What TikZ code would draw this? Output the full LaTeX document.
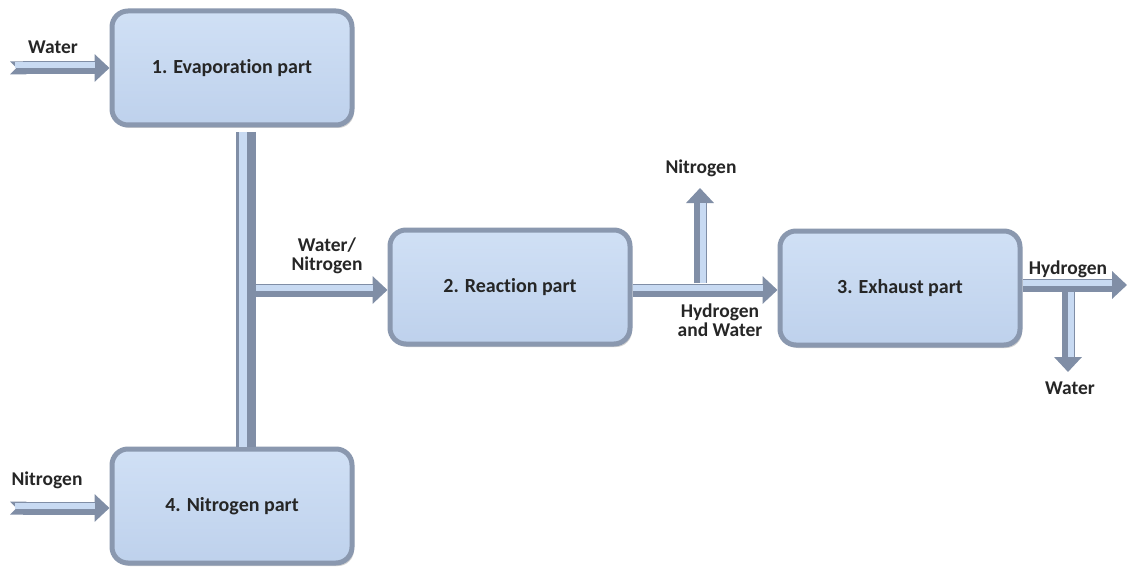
\documentclass[tikz,border=0pt]{standalone}
\usepackage{fontspec}
\setmainfont{Carlito}[Ligatures=NoCommon]
\usetikzlibrary{arrows.meta,shadows}
\definecolor{boxtop}{RGB}{208,224,245}
\definecolor{boxbot}{RGB}{190,209,236}
\definecolor{boxline}{RGB}{138,152,175}
\definecolor{arrdark}{RGB}{128,142,166}
\definecolor{arrlight}{RGB}{200,218,242}
\tikzset{
  partbox/.style={rounded corners=16pt, minimum width=240pt, minimum height=114pt,
    top color=boxtop, bottom color=boxbot, draw=boxline, line width=5pt,
    drop shadow={shadow xshift=2pt, shadow yshift=-3pt, fill=black!35},
    font=\fontsize{20}{24}\selectfont\bfseries, text=black!85},
  lbl/.style={font=\fontsize{19.5}{22}\selectfont\bfseries, text=black!85, align=center},
  fatr/.style={draw=arrdark, line width=13pt, -{Triangle[width=27pt,length=15pt]},
    postaction={draw=arrlight, line width=6pt, -, shorten >=15pt, transform canvas={yshift=2.5pt}}},
  fatu/.style={draw=arrdark, line width=13pt, -{Triangle[width=27pt,length=15pt]},
    postaction={draw=arrlight, line width=6pt, -, shorten >=15pt, transform canvas={xshift=2.5pt}}},
  fatd/.style={draw=arrdark, line width=13pt, -{Triangle[width=27pt,length=15pt]},
    postaction={draw=arrlight, line width=6pt, -, shorten >=15pt, transform canvas={xshift=2.5pt}}},
  fatin/.style={draw=arrdark, line width=13pt, {Triangle Cap[reversed]}-{Triangle[width=27pt,length=15pt]},
    postaction={draw=arrlight, line width=6pt, -, shorten >=15pt, shorten <=5pt, transform canvas={yshift=2.5pt}}},
  barv/.style={draw=arrdark, line width=20pt,
    postaction={draw=arrlight, line width=8pt, transform canvas={xshift=-3pt}}},
}
\begin{document}
\begin{tikzpicture}[x=1pt,y=-1pt]
\useasboundingbox (0,0) rectangle (1127,567);
\fill[white] (0,0) rectangle (1127,567);
% nodes
\node[partbox] (b1) at (232,68) {1. Evaporation part};
\node[partbox] (b2) at (510,287) {2. Reaction part};
\node[partbox] (b3) at (900,288) {3. Exhaust part};
\node[partbox] (b4) at (232,506) {4. Nitrogen part};
% coordinates
\coordinate (wi) at (10,68);
\coordinate (ni) at (10,508);
\coordinate (bt) at (246,132);
\coordinate (bb) at (246,447);
\coordinate (jn) at (256,290);
\coordinate (nu0) at (700,283);
\coordinate (nu1) at (700,188);
\coordinate (ho) at (1127,285);
\coordinate (wd0) at (1068,292);
\coordinate (wd1) at (1068,372);
% connectors
\draw[barv] (bt) -- (bb);
\draw[fatin] (wi) -- (wi -| b1.west);
\draw[fatin] (ni) -- (ni -| b4.west);
\draw[fatr] (jn) -- (jn -| b2.west);
\draw[fatu] (nu0) -- (nu1);
\draw[fatr] (b2.east |- jn) -- (jn -| b3.west);
\draw[fatd] (wd0) -- (wd1);
\draw[fatr] (b3.east |- ho) -- (ho);
% labels
\node[lbl] (lw) at (53,47) {Water};
\node[lbl] (ln) at (47,480) {Nitrogen};
\node[lbl] (lwn) at (327,256) {Water/\\[-3pt]Nitrogen};
\node[lbl] (lhw) at (720,320) {Hydrogen\\[-3pt]and Water};
\node[lbl] (ln2) at (701,168) {Nitrogen};
\node[lbl] (lh) at (1068,269) {Hydrogen};
\node[lbl] (lw2) at (1070,388) {Water};
\end{tikzpicture}
\end{document}
